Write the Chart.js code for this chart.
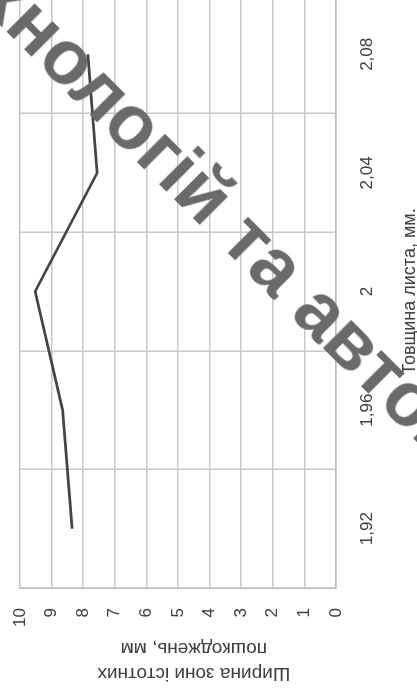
<!DOCTYPE html>
<html>
<head>
<meta charset="utf-8">
<script src="https://cdn.jsdelivr.net/npm/chart.js@4.4.1/dist/chart.umd.min.js"></script>
<style>
    html, body { margin: 0; padding: 0; background: #fff; overflow: hidden; width: 417px; height: 698px; }
    /* графік малюється у звичайній орієнтації, потім повертається на 90° проти годинникової */
    #wrap { position: absolute; left: 0; top: 698px; width: 710px; height: 425px; transform-origin: 0 0; transform: rotate(-90deg); }
    #watermark {
        position: absolute; left: -60px; top: -118px; height: 76px; line-height: 76px;
        font: bold 76px "Liberation Sans", Arial, sans-serif; color: #6a6a6a; white-space: nowrap;
        letter-spacing: 0px; transform-origin: 0 50%; transform: rotate(45deg); pointer-events: none;
    }
</style>
</head>
<body>
<div id="wrap"><canvas id="grafik" width="710" height="425"></canvas></div>
<div id="watermark">технологій та автоматизації</div>

<script>
// 1. DATA
const tovshchyna = ['1,92', '1,96', '2', '2,04', '2,08'];
const shyrynaZony = [8.35, 8.65, 9.52, 7.56, 7.85];
const yMin = 0, yMax = 10, yStep = 1;

const FONT = '"Liberation Sans", Arial, sans-serif';
const TEXT = '#404040';
const GRID = '#c8c8c8';

// 2. CHART
const ctx = document.getElementById('grafik').getContext('2d');
new Chart(ctx, {
    type: 'line',
    data: {
        labels: tovshchyna,
        datasets: [{
            data: shyrynaZony,
            borderColor: '#454545',
            borderWidth: 2.7,
            pointRadius: 0,
            tension: 0,
            fill: false
        }]
    },
    options: {
        responsive: false,
        animation: false,
        devicePixelRatio: 1,
        layout: { padding: { top: 20, right: 7, left: 0, bottom: 0 } },
        plugins: { legend: { display: false }, tooltip: { enabled: false } },
        scales: {
            x: {
                type: 'category',
                offset: true,
                grid: { offset: true, color: GRID, lineWidth: 1.5, drawTicks: false },
                border: { color: '#bdbdbd', width: 1.5 },
                ticks: { padding: 21, color: TEXT, font: { family: FONT, size: 17 }, maxRotation: 0, autoSkip: false },
                title: { display: true, text: 'Товщина листа, мм.', color: TEXT, font: { family: FONT, size: 18, lineHeight: 25 / 18 }, padding: { top: 0, bottom: 2.5 } },
                afterFit: (s) => { s.height = 89; s.paddingLeft = 0; s.paddingRight = 0; }
            },
            y: {
                min: yMin,
                max: yMax,
                grid: { color: GRID, lineWidth: 1.5, drawTicks: false },
                border: { color: '#bdbdbd', width: 1.5 },
                ticks: { stepSize: yStep, padding: 20, color: TEXT, font: { family: FONT, size: 17 } },
                title: { display: true, text: ['Ширина зони істотних      ', 'пошкоджень, мм      '], color: TEXT, font: { family: FONT, size: 19, lineHeight: 25 / 19 }, padding: { top: 12.5, bottom: 0 } },
                afterFit: (s) => { s.width = 110; s.paddingTop = 0; s.paddingBottom = 0; }
            }
        }
    }
});
</script>
</body>
</html>
